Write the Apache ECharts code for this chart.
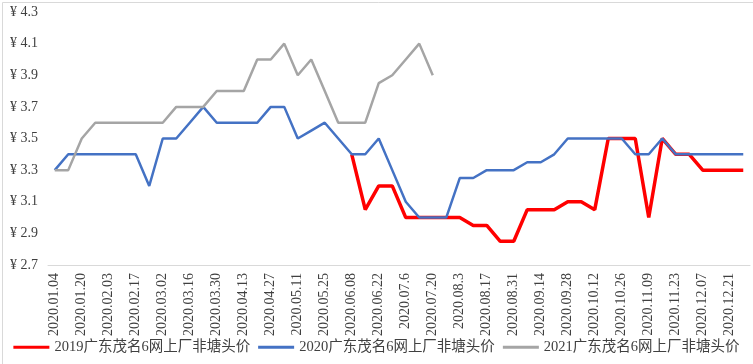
<!DOCTYPE html>
<html>
<head>
<meta charset="utf-8">
<script src="https://cdn.jsdelivr.net/npm/echarts@6/dist/echarts.min.js"></script>
<style>
html,body{margin:0;padding:0;background:#fff;}
#chart{width:753px;height:364px;}
</style>
</head>
<body>
<div id="chart"></div>
<script>
var categories = [
  "2020.01.04","2020.01.13","2020.01.20","2020.01.27","2020.02.03","2020.02.10","2020.02.17","2020.02.24",
  "2020.03.02","2020.03.09","2020.03.16","2020.03.23","2020.03.30","2020.04.06","2020.04.13","2020.04.20",
  "2020.04.27","2020.05.04","2020.05.11","2020.05.18","2020.05.25","2020.06.01","2020.06.08","2020.06.15",
  "2020.06.22","2020.06.29","2020.07.6","2020.07.13","2020.07.20","2020.07.27","2020.08.3","2020.08.10",
  "2020.08.17","2020.08.24","2020.08.31","2020.09.07","2020.09.14","2020.09.21","2020.09.28","2020.10.05",
  "2020.10.12","2020.10.19","2020.10.26","2020.11.02","2020.11.09","2020.11.16","2020.11.23","2020.11.30",
  "2020.12.07","2020.12.14","2020.12.21","2020.12.28"
];
var seriesNames = ["2019广东茂名6网上厂非塘头价","2020广东茂名6网上厂非塘头价","2021广东茂名6网上厂非塘头价"];
var values2019 = [
  null,null,null,null,null,null,null,null,null,null,null,null,null,null,null,null,null,null,null,null,null,null,
  3.4,3.05,3.2,3.2,3.0,3.0,3.0,3.0,3.0,2.95,2.95,2.85,2.85,3.05,3.05,3.05,3.1,3.1,3.05,3.5,3.5,3.5,3.0,3.5,3.4,3.4,3.3,3.3,3.3,3.3
];
var values2020 = [
  3.3,3.4,3.4,3.4,3.4,3.4,3.4,3.2,3.5,3.5,3.6,3.7,3.6,3.6,3.6,3.6,3.7,3.7,3.5,3.55,3.6,3.5,3.4,3.4,3.5,3.3,
  3.1,3.0,3.0,3.0,3.25,3.25,3.3,3.3,3.3,3.35,3.35,3.4,3.5,3.5,3.5,3.5,3.5,3.4,3.4,3.5,3.4,3.4,3.4,3.4,3.4,3.4
];
var values2021 = [
  3.3,3.3,3.5,3.6,3.6,3.6,3.6,3.6,3.6,3.7,3.7,3.7,3.8,3.8,3.8,4.0,4.0,4.1,3.9,4.0,3.8,3.6,3.6,3.6,3.85,3.9,
  4.0,4.1,3.9,null,null,null,null,null,null,null,null,null,null,null,null,null,null,null,null,null,null,null,null,null,null,null
];
var yMin = 2.7, yMax = 4.3;

var serif = "'Liberation Serif','Times New Roman','Noto Sans CJK SC',serif";
var chart = echarts.init(document.getElementById('chart'), null, {renderer:'canvas'});
chart.setOption({
  animation: false,
  backgroundColor: '#fff',
  graphic: [{
    type: 'rect', left: 0, top: 0, silent: true, z: -10,
    shape: {x: 0.5, y: 0.5, width: 752, height: 363},
    style: {fill: 'none', stroke: '#d9d9d9', lineWidth: 1}
  }],
  grid: {left: 48, right: 3, top: 12, bottom: 99, containLabel: false},
  xAxis: {
    type: 'category',
    data: categories,
    boundaryGap: true,
    axisLine: {lineStyle: {color: '#d9d9d9', width: 1}},
    axisTick: {show: false},
    axisLabel: {interval: 1, rotate: 90, margin: 8, fontSize: 14, color: '#404040', fontFamily: serif},
    splitLine: {show: false}
  },
  yAxis: {
    type: 'value',
    min: yMin, max: yMax, interval: 0.1,
    axisLine: {show: false},
    axisTick: {show: false},
    splitLine: {show: false},
    axisLabel: {
      margin: 10, fontSize: 14, color: '#404040', fontFamily: serif,
      formatter: function (v) {
        var k = Math.round(v * 10) - 27;
        if (k % 2 !== 0) return '';
        return '¥ ' + v.toFixed(1);
      }
    }
  },
  legend: {
    top: 340, left: 'center', padding: 0, width: 753,
    icon: 'rect', itemWidth: 36, itemHeight: 3, itemGap: 8,
    textStyle: {fontSize: 14.5, color: '#404040', fontFamily: serif},
    data: seriesNames
  },
  series: [
    {name: seriesNames[0], type: 'line', data: values2019, symbol: 'none', connectNulls: false,
     lineStyle: {color: '#ff0000', width: 3.5}, itemStyle: {color: '#ff0000'}},
    {name: seriesNames[1], type: 'line', data: values2020, symbol: 'none',
     lineStyle: {color: '#4472c4', width: 2.5}, itemStyle: {color: '#4472c4'}},
    {name: seriesNames[2], type: 'line', data: values2021, symbol: 'none', connectNulls: false,
     lineStyle: {color: '#a5a5a5', width: 2.5}, itemStyle: {color: '#a5a5a5'}}
  ]
});
</script>
</body>
</html>
